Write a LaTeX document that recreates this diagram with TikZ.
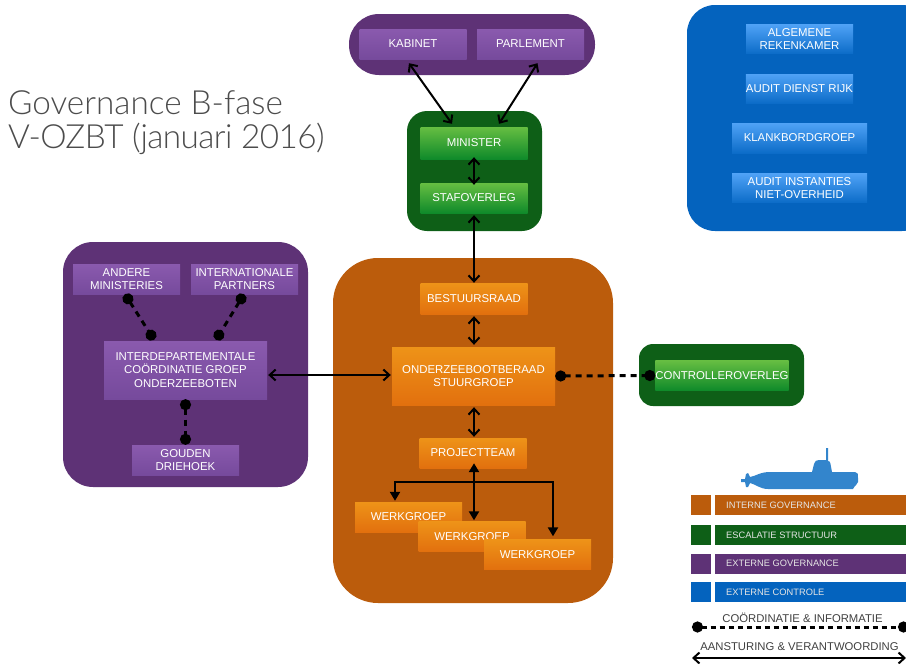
\documentclass[tikz,border=0pt]{standalone}
\usepackage{fontspec}
\setmainfont{Liberation Sans}
\newfontfamily\lightfont{Lato Light}
\usetikzlibrary{arrows.meta,calc}
\definecolor{orangebg}{HTML}{BB5C0C}
\definecolor{greenbg}{HTML}{0E5F17}
\definecolor{purplebg}{HTML}{5E3276}
\definecolor{bluebg}{HTML}{0463BE}
\definecolor{orangetop}{HTML}{EE9318}
\definecolor{orangelow}{HTML}{E2700E}
\definecolor{greentop}{HTML}{66BE42}
\definecolor{greenlow}{HTML}{0F8A2A}
\definecolor{purpletop}{HTML}{8A5AAE}
\definecolor{purplelow}{HTML}{764A9C}
\definecolor{bluetop}{HTML}{4FA2F6}
\definecolor{bluelow}{HTML}{0C6CC8}
\definecolor{subblue}{HTML}{3385CC}
\begin{document}
\begin{tikzpicture}[x=1pt,y=-1pt,
box/.style={%
anchor=center,
align=center,
inner sep=0pt,
text=white,
font=\fontsize{11.4}{13.5}\selectfont,
minimum width=107pt,
minimum height=30pt,
},
orangebox/.style={box,top color=orangetop,bottom color=orangelow},
greenbox/.style={box,top color=greentop,bottom color=greenlow},
purplebox/.style={box,top color=purpletop,bottom color=purplelow},
bluebox/.style={box,top color=bluetop,bottom color=bluelow},
legendbar/.style={%
anchor=west,
inner sep=0pt,
minimum height=20pt,
},
legendtext/.style={%
anchor=west,
inner sep=0pt,
text=white!90!black,
font=\fontsize{9.3}{10}\selectfont,
},
linetext/.style={%
inner sep=0pt,
text=black!75,
font=\fontsize{11.3}{12}\selectfont,
},
title/.style={%
anchor=west,
align=left,
inner sep=0pt,
text=black!70,
font=\lightfont\fontsize{33.3}{34}\selectfont,
},
both/.style={{Straight Barb[length=6pt,width=11pt]}-{Straight Barb[length=6pt,width=11pt]},line width=2pt},
fork/.style={-{Triangle[length=9pt,width=10pt]},line width=2.2pt},
dots/.style={{Circle[length=11pt]}-{Circle[length=11pt]},line width=3pt,dash pattern=on 6pt off 5pt},
]
%% Page
\useasboundingbox (0,0) rectangle (906,664);
\node[title]at(8,123)(head){Governance B-fase\\{\addfontfeature{LetterSpace=-1.7}V-OZBT (januari 2016)}};
%% Groups
\path[fill=purplebg,rounded corners=30pt] (349,14) rectangle (595,75);
\path[fill=greenbg,rounded corners=20pt] (407,111) rectangle (542,231);
\path[fill=bluebg,rounded corners=28pt] (687,5) rectangle (930,231);
\path[fill=purplebg,rounded corners=30pt] (63,242) rectangle (308,487);
\path[fill=orangebg,rounded corners=45pt] (333,258) rectangle (613,603);
\path[fill=greenbg,rounded corners=14pt] (639,344) rectangle (804,406);
%% Top
\node[purplebox]at(413,44)(kabinet){KABINET};
\node[purplebox]at(530.5,44)(parlement){PARLEMENT};
\node[greenbox,minimum height=32pt]at(474,143)(minister){MINISTER};
\node[greenbox]at(474,198)(staf){STAFOVERLEG};
%% Audit
\node[bluebox,minimum height=29pt]at(799.5,39)(alg){ALGEMENE\\REKENKAMER};
\node[bluebox,minimum height=29pt]at(799.5,88.5)(dienst){AUDIT DIENST RIJK};
\node[bluebox,minimum width=135pt]at(799.5,138)(klank){KLANKBORDGROEP};
\node[bluebox,minimum width=135pt,minimum height=29pt]at(799.5,188)(inst){AUDIT INSTANTIES\\NIET-OVERHEID};
%% Left
\node[purplebox]at(126.5,279)(andere){ANDERE\\MINISTERIES};
\node[purplebox]at(244.5,279)(partners){INTERNATIONALE\\PARTNERS};
\node[purplebox,minimum width=163pt,minimum height=58pt]at(185.5,370)(idcg){INTERDEPARTEMENTALE\\COÖRDINATIE GROEP\\ONDERZEEBOTEN};
\node[purplebox]at(185.5,460)(gouden){GOUDEN\\DRIEHOEK};
%% Centre
\node[orangebox,minimum height=31pt]at(474,298.5)(raad){BESTUURSRAAD};
\node[orangebox,minimum width=163pt,minimum height=58pt]at(473.5,376)(beraad){ONDERZEEBOOTBERAAD\\STUURGROEP};
\node[orangebox]at(473,453)(team){PROJECTTEAM};
\node[orangebox]at(408.5,517)(werk1){WERKGROEP};
\node[orangebox]at(472,536.5)(werk2){WERKGROEP};
\node[orangebox]at(537.5,554.5)(werk3){WERKGROEP};
%% Controller
\node[greenbox,minimum width=132pt]at(722,375.5)(controller){CONTROLLEROVERLEG};
%% Links
\draw[both] ($(kabinet.south)+(-4,4)$) -- ($(minister.north)+(-22,-3)$);
\draw[both] ($(parlement.south)+(7,4)$) -- ($(minister.north)+(25,-3)$);
\draw[both] ($(minister.south)+(0,-2)$) -- ($(staf.north)+(0,2)$);
\draw[both] ($(staf.south)+(0,2)$) -- (raad.north);
\draw[both] ($(raad.south)+(0,2)$) -- ($(beraad.north)+(0.5,-2)$);
\draw[both] ($(beraad.south)+(0.5,2)$) -- ($(team.north)+(1,-1)$);
\draw[both] ($(idcg.east)+(1,5)$) -- ($(beraad.west)+(-1,-1)$);
\draw[dots] (beraad.east) -- (controller.west);
\draw[dots] ($(andere.south)+(-1.5,0)$) -- ($(idcg.north)+(-31.5,-1)$);
\draw[dots] ($(partners.south)+(-0.5,0)$) -- ($(idcg.north)+(30.5,-1)$);
\draw[dots] (idcg.south) -- (gouden.north);
%% Fork
\coordinate(split)at(474,482);
\draw[fork] (split) -- ($(team.south)+(1,-5)$);
\draw[fork] (split) -| ($(werk1.north)+(-13.5,-1)$);
\draw[fork] (split) -- ($(werk2.north)+(2,-1)$);
\draw[fork] (split) -| ($(werk3.north)+(15.5,-3)$);
%% Legend
\path[fill=subblue] (741,479) -- (745,479) -- (746,474) -- (748,473) -- (750,477)
 .. controls (756,476) and (760,472) .. (770,472) -- (812,472) -- (814,464)
 .. controls (815,461) and (816,460) .. (819,460) -- (826,460) -- (826,448) -- (828,448) -- (828,461)
 .. controls (830,461) and (830,462) .. (830.5,464) -- (832,472) -- (855,472)
 .. controls (858,472) and (858,474) .. (858,478) -- (858,482)
 .. controls (858,484) and (855,485) .. (853,489) -- (768,489)
 .. controls (760,489) and (755,484) .. (750,483) -- (748,487) -- (746,487) -- (745,482) -- (741,482) -- cycle;
\node[legendbar,fill=orangebg,minimum width=20pt]at(691,505)(sq1){};
\node[legendbar,fill=orangebg,minimum width=191pt]at(715,505)(bar1){};
\node[legendbar,fill=greenbg,minimum width=20pt]at(691,535)(sq2){};
\node[legendbar,fill=greenbg,minimum width=191pt]at(715,535)(bar2){};
\node[legendbar,fill=purplebg,minimum width=20pt]at(691,563.5)(sq3){};
\node[legendbar,fill=purplebg,minimum width=191pt]at(715,563.5)(bar3){};
\node[legendbar,fill=bluebg,minimum width=20pt]at(691,592)(sq4){};
\node[legendbar,fill=bluebg,minimum width=191pt]at(715,592)(bar4){};
\node[legendtext]at(726,505)(txt1){INTERNE GOVERNANCE};
\node[legendtext]at(726,535)(txt2){ESCALATIE STRUCTUUR};
\node[legendtext]at(726,563.5)(txt3){EXTERNE GOVERNANCE};
\node[legendtext]at(726,592)(txt4){EXTERNE CONTROLE};
\coordinate(d1)at(692,627);
\coordinate(d2)at(909,627);
\coordinate(a1)at(692,658);
\coordinate(a2)at(906,658);
\draw[dots,dash pattern=on 5pt off 4pt] (d1) -- (d2);
\draw[both] (a1) -- (a2);
\node[linetext]at(802.5,618)(coord){COÖRDINATIE \& INFORMATIE};
\node[linetext]at(799.5,647)(aans){AANSTURING \& VERANTWOORDING};
\end{tikzpicture}
\end{document}
